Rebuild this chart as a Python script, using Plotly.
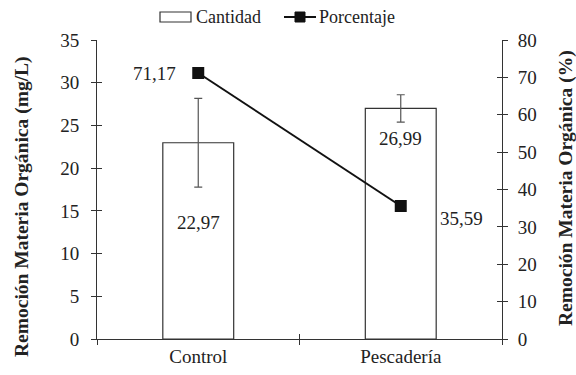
import plotly.graph_objects as go

categories = ["Control", "Pescadería"]
cantidad = [22.97, 26.99]
cantidad_err = [5.2, 1.6]
porcentaje = [71.17, 35.59]
cantidad_labels = ["22,97", "26,99"]
porcentaje_labels = ["71,17", "35,59"]

FONT = "Liberation Serif, Times New Roman, serif"
AX = "#333333"
TXT = "#222222"
FS = 19

L, R, T, B = 97, 74, 40, 36
W, H = 576, 375
PW, PH = W - L - R, H - T - B


def px(xp):
    return (xp - L) / PW


def py(yp):
    return (H - B - yp) / PH


fig = go.Figure()
fig.add_trace(go.Bar(
    x=categories, y=cantidad, name="Cantidad",
    marker=dict(color="white", line=dict(color="#333333", width=1.2)),
    width=0.35,
    error_y=dict(type="data", array=cantidad_err, color="#555555", thickness=1.2, width=4),
    yaxis="y", showlegend=False,
))
fig.add_trace(go.Scatter(
    x=categories, y=porcentaje, name="Porcentaje", mode="lines+markers",
    line=dict(color="#111111", width=2),
    marker=dict(symbol="square", size=12, color="#111111"),
    yaxis="y2", showlegend=False,
))

# value labels
lab_font = dict(size=FS, family=FONT, color=TXT)
fig.add_annotation(x=categories[0], y=13.6, xref="x", yref="y", text=cantidad_labels[0],
                   showarrow=False, font=lab_font)
fig.add_annotation(x=categories[1], y=cantidad[1], xref="x", yref="y", text=cantidad_labels[1],
                   showarrow=False, yshift=-30, font=lab_font)
fig.add_annotation(x=categories[0], y=porcentaje[0], xref="x", yref="y2", text=porcentaje_labels[0],
                   showarrow=False, xanchor="right", xshift=-20, font=lab_font)
fig.add_annotation(x=categories[1], y=porcentaje[1], xref="x", yref="y2", text=porcentaje_labels[1],
                   showarrow=False, xanchor="left", xshift=37, yshift=-13, font=lab_font)

# axis titles
tfont = dict(size=19.5, family=FONT, color=TXT)
fig.add_annotation(x=px(22), y=py(207), xref="paper", yref="paper", text="<b>Remoción Materia Orgánica (mg/L)</b>",
                   textangle=-90, showarrow=False, font=tfont, xanchor="center", yanchor="middle")
fig.add_annotation(x=px(566), y=py(188), xref="paper", yref="paper", text="<b>Remoción Materia Orgánica (%)</b>",
                   textangle=-90, showarrow=False, font=tfont, xanchor="center", yanchor="middle")

# manual legend
ly = py(17)
fig.add_shape(type="rect", xref="paper", yref="paper", x0=px(160), x1=px(191), y0=py(22), y1=py(12),
              line=dict(color="#333333", width=1.2), fillcolor="white")
fig.add_annotation(x=px(194), y=ly, xref="paper", yref="paper", text="Cantidad", showarrow=False,
                   xanchor="left", yanchor="middle", font=dict(size=18, family=FONT, color=TXT))
fig.add_shape(type="line", xref="paper", yref="paper", x0=px(284), x1=px(316), y0=ly, y1=ly,
              line=dict(color="#111111", width=2))
fig.add_shape(type="rect", xref="paper", yref="paper", x0=px(295), x1=px(305), y0=py(22), y1=py(12),
              line=dict(color="#111111", width=1), fillcolor="#111111")
fig.add_annotation(x=px(317), y=ly, xref="paper", yref="paper", text="Porcentaje", showarrow=False,
                   xanchor="left", yanchor="middle", font=dict(size=18, family=FONT, color=TXT))

axis_common = dict(showgrid=False, zeroline=False, showline=True, linecolor=AX, linewidth=1,
                   ticks="outside", ticklen=5, tickcolor=AX, automargin=False,
                   tickfont=dict(size=FS, family=FONT, color=TXT))

fig.update_layout(
    width=W, height=H,
    margin=dict(l=L, r=R, t=T, b=B),
    plot_bgcolor="white", paper_bgcolor="white",
    font=dict(family=FONT, color=TXT),
    showlegend=False,
    xaxis=dict(**axis_common, tickson="boundaries", type="category"),
    yaxis=dict(**axis_common, range=[0, 35], dtick=5, ticklabelstandoff=8),
    yaxis2=dict(**axis_common, range=[0, 80], dtick=10, overlaying="y", side="right",
                ticklabelstandoff=6),
    yaxis3=dict(range=[0, 35], dtick=5, overlaying="y", side="left", showgrid=False,
                zeroline=False, showline=False, ticks="inside", ticklen=5, tickcolor=AX,
                showticklabels=False, automargin=False),
    yaxis4=dict(range=[0, 80], dtick=10, overlaying="y", side="right", showgrid=False,
                zeroline=False, showline=False, ticks="inside", ticklen=5, tickcolor=AX,
                showticklabels=False, automargin=False),
    xaxis2=dict(overlaying="x", side="bottom", type="category", tickson="boundaries",
                showgrid=False, zeroline=False, showline=False, ticks="inside", ticklen=5,
                tickcolor=AX, showticklabels=False, matches="x", automargin=False),
)

# invisible traces to activate the overlay tick axes
fig.add_trace(go.Scatter(x=categories, y=[None, None], yaxis="y3", showlegend=False, hoverinfo="skip"))
fig.add_trace(go.Scatter(x=categories, y=[None, None], yaxis="y4", showlegend=False, hoverinfo="skip"))
fig.add_trace(go.Scatter(x=categories, y=[None, None], xaxis="x2", showlegend=False, hoverinfo="skip"))

fig.write_html("out.html", config={"displayModeBar": False},
               post_script="document.body.style.margin='0';document.body.style.overflow='hidden';")
